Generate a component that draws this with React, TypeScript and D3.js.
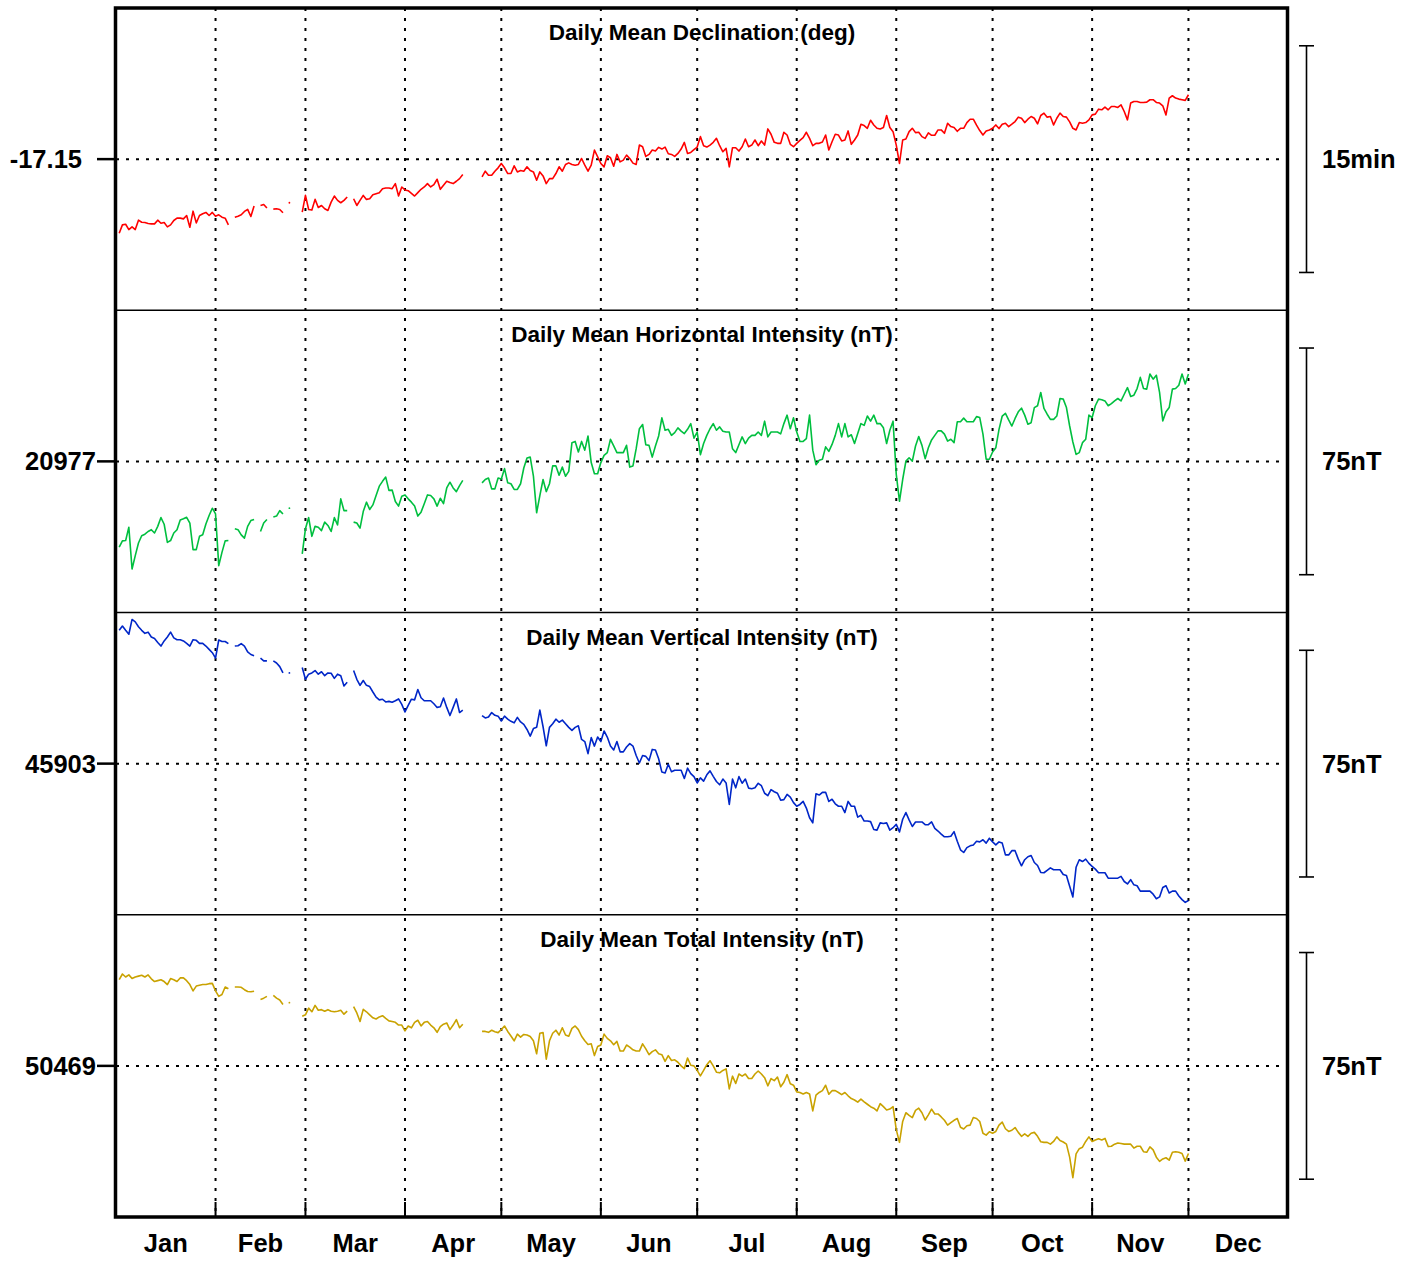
import React from 'react';
import * as d3 from 'd3';

// ---------- DATA ----------
const MONTHS = ['Jan', 'Feb', 'Mar', 'Apr', 'May', 'Jun', 'Jul', 'Aug', 'Sep', 'Oct', 'Nov', 'Dec'];
const MONTH_STARTS = [0, 31, 59, 90, 120, 151, 181, 212, 243, 273, 304, 334, 365];
// first day-of-year of each continuous data segment (days missing between them)
const SEGMENT_STARTS = [1, 37, 45, 49, 54, 58, 74, 114];

const DECLINATION: number[][] = [
  [-17.2318, -17.2225, -17.2218, -17.2277, -17.2247, -17.2277, -17.2173, -17.2196, -17.2199, -17.221, -17.2214, -17.2214, -17.2173, -17.2207, -17.2199, -17.2247, -17.2225, -17.2177, -17.2151, -17.2151, -17.2159, -17.2122, -17.2251, -17.2074, -17.2203, -17.2122, -17.2103, -17.2088, -17.2122, -17.2088, -17.2129, -17.2114, -17.214, -17.2151, -17.2225],
  [-17.214, -17.2129, -17.2114, -17.2077, -17.2055, -17.2133, -17.2018],
  [-17.2011, -17.2, -17.204],
  [-17.2051, -17.2048, -17.2055, -17.2092],
  [-17.1981],
  [-17.2085, -17.19, -17.2055, -17.2062, -17.1944, -17.2033, -17.2011, -17.2048, -17.2066, -17.1974, -17.1907, -17.1955, -17.1981, -17.1955, -17.1918],
  [-17.1937, -17.2011, -17.1955, -17.19, -17.1944, -17.1937, -17.1892, -17.1881, -17.187, -17.1826, -17.1818, -17.1818, -17.1826, -17.177, -17.1907, -17.1807, -17.184, -17.1848, -17.1877, -17.1907, -17.187, -17.1833, -17.1807, -17.177, -17.1807, -17.1781, -17.1722, -17.1833, -17.1789, -17.1744, -17.1759, -17.177, -17.1744, -17.1715, -17.167],
  [
    -17.1696, -17.1633, -17.1678, -17.1678, -17.1633, -17.1596, -17.1548, -17.1596,
    -17.1659, -17.1659, -17.1574, -17.1641, -17.1626, -17.1633, -17.1585, -17.1626, -17.1641,
    -17.1733, -17.1641, -17.1685, -17.177, -17.1715, -17.1715, -17.1659, -17.1585, -17.1633, -17.1559,
    -17.1541, -17.1559, -17.1567, -17.1559, -17.1493, -17.1567, -17.1633, -17.1567, -17.14, -17.1474,
    -17.1548, -17.1585, -17.1463, -17.1485, -17.1578, -17.1448, -17.153, -17.1511, -17.1456, -17.1493,
    -17.1544, -17.1559, -17.1345, -17.1363, -17.147, -17.1448, -17.14, -17.1411, -17.137, -17.1389,
    -17.1367, -17.1441, -17.1448, -17.147, -17.1437, -17.1389, -17.1315, -17.1437, -17.1426, -17.1396,
    -17.1367, -17.1252, -17.1352, -17.1367, -17.1345, -17.1315, -17.1271, -17.1352, -17.1419, -17.1382,
    -17.1585, -17.1374, -17.1374, -17.1411, -17.1363, -17.1278, -17.1363, -17.1345, -17.1289, -17.1352,
    -17.13, -17.1345, -17.1167, -17.1226, -17.1315, -17.1326, -17.1326, -17.1204, -17.1234, -17.1337,
    -17.1363, -17.1326, -17.1293, -17.1263, -17.1204, -17.1271, -17.1352, -17.1326, -17.1326, -17.1311,
    -17.1234, -17.14, -17.1308, -17.1226, -17.1234, -17.13, -17.1289, -17.1189, -17.1337, -17.1289,
    -17.1234, -17.1115, -17.113, -17.116, -17.1071, -17.1123, -17.116, -17.1167, -17.1152, -17.1019,
    -17.1152, -17.1197, -17.1345, -17.1548, -17.1289, -17.1278, -17.1197, -17.116, -17.1208, -17.1204,
    -17.1252, -17.1271, -17.1211, -17.1237, -17.1237, -17.1178, -17.1178, -17.1215, -17.1104, -17.1141,
    -17.1152, -17.1193, -17.116, -17.116, -17.1097, -17.106, -17.106, -17.1126, -17.1185, -17.1234,
    -17.1189, -17.1178, -17.116, -17.1123, -17.1163, -17.1115, -17.1104, -17.1141, -17.1115, -17.1086,
    -17.1037, -17.1049, -17.1097, -17.106, -17.103, -17.1049, -17.1111, -17.1019, -17.0993, -17.1037,
    -17.103, -17.1123, -17.1049, -17.0993, -17.103, -17.1037, -17.1089, -17.116, -17.1178, -17.1097,
    -17.1104, -17.1097, -17.1067, -17.1012, -17.1004, -17.0949, -17.0956, -17.0926, -17.0956, -17.0919,
    -17.0919, -17.093, -17.0901, -17.0975, -17.1067, -17.0882, -17.0864, -17.0864, -17.0875, -17.0875,
    -17.0871, -17.0845, -17.0845, -17.0875, -17.0882, -17.0912, -17.1012, -17.0827, -17.0801, -17.0827,
    -17.0838, -17.0845, -17.0852, -17.079,
  ],
];

const HORIZONTAL: number[][] = [
  [20948.6, 20950.7, 20950.8, 20955.2, 20941.4, 20945.8, 20950.0, 20952.4, 20952.9, 20953.8, 20954.4, 20953.3, 20955.5, 20958.4, 20956.2, 20950.2, 20950.8, 20953.3, 20954.4, 20957.6, 20958.0, 20958.5, 20956.6, 20947.8, 20947.8, 20952.2, 20952.7, 20956.3, 20959.1, 20961.5, 20959.6, 20942.5, 20946.9, 20950.7, 20950.8],
  [20954.7, 20954.4, 20952.7, 20951.6, 20955.5, 20957.4, 20957.8],
  [20953.8, 20956.6, 20957.8],
  [20958.6, 20958.9, 20960.7, 20959.6],
  [20961.5],
  [20946.4, 20954.7, 20958.4, 20952.2, 20955.5, 20955.2, 20954.1, 20956.9, 20955.8, 20953.8, 20958.4, 20956.0, 20964.6, 20960.7, 20960.7],
  [20956.9, 20956.6, 20954.9, 20960.4, 20963.5, 20961.1, 20962.6, 20965.7, 20968.8, 20970.4, 20971.8, 20967.4, 20967.5, 20963.7, 20962.2, 20965.5, 20965.9, 20964.6, 20963.5, 20962.2, 20958.9, 20960.2, 20963.0, 20965.9, 20965.7, 20964.6, 20962.2, 20964.8, 20963.0, 20968.2, 20970.1, 20968.2, 20967.0, 20969.0, 20970.7],
  [
    20969.9, 20971.0, 20971.5, 20967.9, 20967.9, 20971.5, 20971.2, 20974.6,
    20969.9, 20969.6, 20967.7, 20967.7, 20969.6, 20974.8, 20978.1, 20978.4, 20972.1,
    20960.0, 20965.7, 20971.0, 20967.0, 20969.6, 20975.5, 20975.5, 20972.4, 20975.1, 20972.1,
    20973.7, 20983.2, 20983.6, 20980.1, 20983.6, 20980.7, 20985.4, 20976.6, 20972.9, 20972.9,
    20976.6, 20979.0, 20979.9, 20984.3, 20982.1, 20979.9, 20979.9, 20979.9, 20982.3, 20975.1,
    20975.5, 20981.2, 20987.8, 20989.2, 20982.5, 20982.3, 20978.4, 20982.1, 20985.4, 20991.4,
    20987.3, 20987.6, 20985.6, 20986.5, 20988.1, 20987.0, 20986.2, 20987.6, 20989.5, 20984.7,
    20986.7, 20979.2, 20982.9, 20985.6, 20987.8, 20989.5, 20987.3, 20988.4, 20987.0, 20986.7,
    20986.7, 20981.2, 20979.9, 20982.5, 20985.1, 20982.9, 20984.7, 20985.6, 20985.6, 20986.7,
    20985.6, 20990.3, 20985.1, 20986.7, 20986.7, 20986.7, 20986.1, 20989.5, 20992.3, 20987.8,
    20991.4, 20986.7, 20983.6, 20983.6, 20984.5, 20992.3, 20980.7, 20975.9, 20977.4, 20977.7,
    20981.8, 20980.3, 20982.6, 20985.6, 20989.5, 20985.1, 20989.5, 20985.1, 20985.8, 20982.9,
    20986.2, 20989.5, 20988.9, 20992.0, 20990.3, 20992.3, 20989.5, 20989.5, 20988.1, 20982.9,
    20987.3, 20990.3, 20972.7, 20963.8, 20971.0, 20977.1, 20978.2, 20977.1, 20982.1, 20985.2,
    20982.3, 20977.9, 20981.5, 20984.1, 20985.6, 20987.1, 20987.1, 20986.0, 20983.7, 20984.3,
    20983.2, 20990.1, 20990.1, 20991.3, 20990.1, 20990.1, 20990.1, 20991.8, 20991.5, 20986.0,
    20977.7, 20977.7, 20980.1, 20981.5, 20987.6, 20992.0, 20992.9, 20990.7, 20988.7, 20991.2,
    20993.4, 20994.6, 20992.3, 20989.3, 20989.8, 20994.8, 20995.4, 20999.8, 20994.5, 20992.6,
    20990.9, 20990.9, 20992.0, 20997.8, 20997.6, 20994.8, 20988.7, 20983.4, 20979.3, 20979.9,
    20983.2, 20984.3, 20992.3, 20991.5, 20995.4, 20997.6, 20997.4, 20997.0, 20995.4, 20996.1,
    20997.0, 20997.8, 20997.0, 20999.2, 21001.4, 20998.5, 20998.9, 21001.1, 21004.8, 21001.1,
    21000.9, 21005.9, 21004.2, 21005.5, 20999.8, 20990.4, 20993.4, 20994.8, 21000.9, 21001.1,
    21002.2, 21005.9, 21002.6, 21005.9,
  ],
];

const VERTICAL: number[][] = [
  [45947.1, 45948.5, 45947.1, 45945.8, 45950.7, 45949.9, 45948.3, 45947.1, 45946.1, 45946.5, 45944.9, 45944.4, 45943.1, 45941.9, 45943.6, 45944.9, 45946.5, 45944.6, 45944.0, 45944.0, 45943.6, 45942.8, 45941.9, 45944.0, 45943.8, 45942.8, 45942.8, 45941.9, 45940.8, 45939.7, 45937.9, 45943.9, 45943.4, 45943.4, 45942.7],
  [45941.9, 45942.0, 45942.7, 45941.9, 45940.0, 45939.1, 45938.7],
  [45937.9, 45937.0, 45937.0],
  [45937.0, 45936.3, 45935.1, 45933.0],
  [45933.0],
  [45934.8, 45930.9, 45932.6, 45933.0, 45933.8, 45932.6, 45933.4, 45932.1, 45933.0, 45932.9, 45931.2, 45932.6, 45932.1, 45928.7, 45929.9],
  [45933.8, 45930.9, 45928.9, 45930.5, 45928.9, 45928.5, 45926.7, 45925.0, 45924.1, 45924.3, 45923.4, 45923.6, 45923.3, 45923.8, 45924.4, 45922.6, 45920.1, 45922.3, 45924.3, 45924.1, 45927.5, 45924.8, 45923.8, 45923.8, 45923.8, 45922.8, 45921.6, 45921.8, 45924.7, 45921.6, 45918.9, 45921.6, 45924.4, 45919.9, 45920.7],
  [
    45918.9, 45918.1, 45918.4, 45919.9, 45919.0, 45918.7, 45917.1, 45918.7,
    45917.7, 45917.0, 45916.5, 45918.3, 45916.8, 45916.0, 45914.3, 45912.1, 45914.6,
    45915.0, 45920.7, 45915.2, 45908.9, 45915.0, 45916.2, 45917.7, 45916.7, 45917.4, 45916.2,
    45915.0, 45914.0, 45915.0, 45915.5, 45911.0, 45910.3, 45906.3, 45911.6, 45908.8, 45911.8,
    45910.3, 45913.8, 45911.8, 45908.8, 45907.5, 45910.3, 45906.9, 45906.9, 45908.5, 45909.6,
    45908.8, 45905.7, 45903.2, 45905.7, 45905.4, 45904.0, 45907.7, 45907.5, 45904.6, 45900.2,
    45899.9, 45902.8, 45900.3, 45900.8, 45900.8, 45900.8, 45898.1, 45901.5, 45899.7, 45898.7,
    45896.6, 45898.3, 45897.2, 45899.3, 45900.6, 45898.8, 45897.1, 45896.0, 45897.9, 45896.6,
    45889.5, 45897.9, 45895.0, 45898.7, 45896.5, 45897.9, 45894.9, 45894.7, 45895.0, 45896.5,
    45895.7, 45893.2, 45892.4, 45894.4, 45893.7, 45893.2, 45890.9, 45891.1, 45892.8, 45891.9,
    45890.1, 45888.9, 45889.5, 45890.5, 45888.3, 45885.1, 45883.4, 45893.0, 45892.6, 45893.5,
    45893.5, 45890.5, 45891.2, 45889.7, 45888.9, 45888.9, 45886.8, 45890.5, 45888.9, 45888.9,
    45885.3, 45885.9, 45884.0, 45884.0, 45883.8, 45881.2, 45881.0, 45883.4, 45883.2, 45883.4,
    45881.0, 45881.8, 45882.9, 45880.4, 45884.6, 45886.8, 45884.4, 45882.2, 45883.7, 45883.7,
    45883.7, 45882.8, 45882.8, 45883.7, 45881.6, 45880.7, 45879.7, 45878.8, 45878.8, 45879.0,
    45880.5, 45877.3, 45874.5, 45873.6, 45875.2, 45875.8, 45876.1, 45877.3, 45877.1, 45877.8,
    45876.7, 45878.3, 45877.1, 45876.1, 45877.1, 45876.7, 45872.8, 45872.8, 45874.2, 45874.2,
    45871.4, 45869.2, 45871.2, 45872.2, 45872.6, 45870.3, 45869.3, 45867.0, 45866.9, 45867.7,
    45868.5, 45867.9, 45867.9, 45867.9, 45866.3, 45866.0, 45862.4, 45858.9, 45868.7, 45871.2,
    45870.6, 45871.4, 45870.0, 45869.0, 45868.1, 45866.9, 45866.9, 45866.9, 45865.1, 45865.1,
    45865.1, 45865.1, 45865.7, 45864.0, 45863.2, 45864.6, 45862.9, 45862.6, 45860.8, 45860.8,
    45860.8, 45860.8, 45859.8, 45858.3, 45858.9, 45862.0, 45862.6, 45860.2, 45860.8, 45860.8,
    45859.2, 45858.0, 45857.1, 45857.7,
  ],
];

const TOTAL: number[][] = [
  [50497.5, 50499.4, 50498.4, 50499.1, 50497.9, 50498.4, 50498.7, 50499.0, 50498.4, 50499.1, 50497.8, 50496.9, 50497.2, 50497.5, 50496.9, 50495.9, 50497.9, 50497.5, 50496.9, 50498.1, 50498.1, 50497.2, 50495.9, 50493.8, 50495.4, 50495.7, 50495.9, 50495.9, 50496.2, 50496.3, 50493.8, 50492.0, 50492.6, 50495.1, 50494.5],
  [50495.1, 50495.1, 50495.0, 50494.2, 50493.6, 50493.5, 50493.7],
  [50491.0, 50491.4, 50492.0],
  [50492.3, 50491.4, 50490.8, 50489.3],
  [50489.9],
  [50485.4, 50485.9, 50488.1, 50486.9, 50489.0, 50487.4, 50487.6, 50487.1, 50487.6, 50487.1, 50486.9, 50487.1, 50487.4, 50486.1, 50487.1],
  [50488.6, 50486.5, 50483.7, 50487.7, 50486.9, 50485.9, 50484.9, 50484.5, 50485.2, 50485.6, 50484.7, 50483.9, 50483.7, 50483.4, 50482.5, 50482.5, 50480.6, 50482.2, 50481.6, 50483.4, 50484.1, 50482.2, 50483.4, 50483.7, 50482.5, 50481.6, 50480.1, 50482.0, 50482.8, 50483.2, 50481.0, 50482.5, 50484.3, 50481.6, 50482.8],
  [
    50480.4, 50480.4, 50480.1, 50480.8, 50480.3, 50480.0, 50481.0, 50482.2,
    50480.4, 50478.9, 50477.3, 50479.5, 50478.5, 50479.4, 50479.2, 50478.7, 50477.3,
    50473.0, 50479.8, 50480.0, 50471.2, 50477.3, 50479.8, 50480.8, 50479.2, 50481.6, 50479.2,
    50478.8, 50481.4, 50482.2, 50481.0, 50478.8, 50477.3, 50476.1, 50476.3, 50472.4, 50475.4,
    50475.9, 50479.5, 50478.1, 50477.3, 50476.0, 50477.1, 50473.9, 50473.9, 50475.9, 50475.2,
    50474.3, 50473.9, 50473.9, 50476.3, 50474.6, 50472.7, 50473.7, 50474.3, 50473.0, 50472.7,
    50470.5, 50472.4, 50470.8, 50471.0, 50470.2, 50469.0, 50468.1, 50471.6, 50469.2, 50469.0,
    50467.5, 50465.7, 50467.5, 50469.4, 50470.7, 50469.0, 50466.9, 50466.7, 50467.5, 50468.0,
    50461.4, 50465.6, 50463.2, 50466.3, 50465.6, 50466.3, 50464.8, 50464.8, 50466.3, 50467.3,
    50466.3, 50465.1, 50462.4, 50464.8, 50464.1, 50465.3, 50462.1, 50463.6, 50466.1, 50463.1,
    50462.6, 50460.4, 50460.2, 50459.7, 50460.2, 50459.7, 50454.1, 50459.3, 50460.2, 50460.8,
    50462.6, 50459.6, 50460.8, 50460.8, 50460.2, 50459.5, 50460.2, 50459.1, 50458.2, 50457.7,
    50457.0, 50458.0, 50457.1, 50456.3, 50455.5, 50455.0, 50454.1, 50456.5, 50455.5, 50454.4,
    50454.7, 50455.5, 50447.9, 50443.7, 50450.6, 50453.5, 50452.6, 50451.9, 50454.3, 50455.0,
    50453.5, 50451.1, 50452.8, 50454.7, 50453.1, 50453.1, 50452.1, 50451.0, 50449.4, 50450.2,
    50451.0, 50451.6, 50448.7, 50448.1, 50449.2, 50449.4, 50451.9, 50451.6, 50450.6, 50446.7,
    50446.1, 50447.2, 50446.7, 50447.3, 50449.4, 50450.4, 50448.2, 50447.3, 50447.7, 50448.6,
    50447.0, 50445.7, 50446.5, 50445.7, 50446.7, 50447.0, 50445.7, 50443.9, 50443.7, 50443.7,
    50443.1, 50444.0, 50445.5, 50444.3, 50443.8, 50443.1, 50438.8, 50432.0, 50439.9, 50441.6,
    50442.1, 50444.0, 50445.5, 50444.0, 50444.5, 50444.9, 50444.5, 50445.0, 50442.3, 50442.4,
    50443.1, 50443.5, 50443.3, 50443.1, 50443.1, 50443.1, 50441.8, 50442.4, 50442.4, 50440.6,
    50440.4, 50442.2, 50441.2, 50438.8, 50437.4, 50438.2, 50438.6, 50437.8, 50440.4, 50440.6,
    50440.4, 50440.0, 50437.5, 50440.0,
  ],
];

const TITLES = [
  'Daily Mean Declination (deg)',
  'Daily Mean Horizontal Intensity (nT)',
  'Daily Mean Vertical Intensity (nT)',
  'Daily Mean Total Intensity (nT)',
];
const CENTERS = [-17.15, 20977, 45903, 50469];
const CENTER_LABELS = ['-17.15', '20977', '45903', '50469'];
const HALF_RANGES = [1 / 6, 50, 50, 50]; // half of each panel's span (deg / nT)
const BAR_SIZES = [0.25, 75, 75, 75]; // scale bar length (15 min = 0.25 deg, 75 nT)
const BAR_LABELS = ['15min', '75nT', '75nT', '75nT'];
const COLORS = ['#ff0000', '#00bf3f', '#0026c8', '#c9a200'];
const SERIES = [DECLINATION, HORIZONTAL, VERTICAL, TOTAL];

// ---------- LAYOUT ----------
const LEFT = 116;
const RIGHT = 1288;
const TOP = 8;
const BOTTOM = 1217;
const PANEL_H = (BOTTOM - TOP) / 4;
const FONT = '"Liberation Sans", Arial, Helvetica, sans-serif';

export default function App() {
  const x = d3.scaleLinear().domain([0, 365]).range([LEFT, RIGHT]);
  const line = d3.line<[number, number]>();

  const panels = TITLES.map((title, k) => {
    const top = TOP + k * PANEL_H;
    const y = d3
      .scaleLinear()
      .domain([CENTERS[k] - HALF_RANGES[k], CENTERS[k] + HALF_RANGES[k]])
      .range([top + PANEL_H, top]);
    const segs = SERIES[k].map((vals, s) =>
      vals.map((v, i) => [x(SEGMENT_STARTS[s] + i), y(v)] as [number, number])
    );
    return { title, k, top, y, segs };
  });

  const gridX = MONTH_STARTS.slice(1, -1);

  return (
    <svg
      width={1403}
      height={1261}
      style={{ position: 'absolute', left: 0, top: 0, background: '#fff' }}
      fontFamily={FONT}
      fontWeight="bold"
    >
      <rect x={0} y={0} width={1403} height={1261} fill="#fff" />
      {/* vertical month grid */}
      {gridX.map((d) => (
        <line
          key={'g' + d}
          x1={x(d)}
          x2={x(d)}
          y1={TOP}
          y2={BOTTOM}
          stroke="#000"
          strokeWidth={2}
          strokeDasharray="3,7"
        />
      ))}
      {/* month ticks at bottom */}
      {gridX.map((d) => (
        <line key={'t' + d} x1={x(d)} x2={x(d)} y1={BOTTOM - 15} y2={BOTTOM} stroke="#000" strokeWidth={2} />
      ))}
      {panels.map(({ title, k, top, y, segs }) => {
        const cy = y(CENTERS[k]);
        const barTop = y(CENTERS[k] + BAR_SIZES[k] / 2);
        const barBot = y(CENTERS[k] - BAR_SIZES[k] / 2);
        return (
          <g key={k}>
            <line
              x1={LEFT}
              x2={RIGHT}
              y1={cy}
              y2={cy}
              stroke="#000"
              strokeWidth={2}
              strokeDasharray="3,7"
            />
            {k > 0 && <line x1={LEFT} x2={RIGHT} y1={top} y2={top} stroke="#000" strokeWidth={1.6} />}
            <text x={(LEFT + RIGHT) / 2} y={top + 32} textAnchor="middle" fontSize={22.5}>
              {title}
            </text>
            {/* left tick and label */}
            <line x1={97} x2={LEFT} y1={cy} y2={cy} stroke="#000" strokeWidth={2.5} />
            <text x={k === 0 ? 82 : 96} y={cy + 9} textAnchor="end" fontSize={25.5}>
              {CENTER_LABELS[k]}
            </text>
            {/* right scale bar */}
            <line x1={1306.5} x2={1306.5} y1={barTop} y2={barBot} stroke="#000" strokeWidth={1.6} />
            <line x1={1299} x2={1314} y1={barTop} y2={barTop} stroke="#000" strokeWidth={1.6} />
            <line x1={1299} x2={1314} y1={barBot} y2={barBot} stroke="#000" strokeWidth={1.6} />
            <text x={1322} y={cy + 9} fontSize={25.5}>
              {BAR_LABELS[k]}
            </text>
            {/* data */}
            {segs.map((pts, s) =>
              pts.length > 1 ? (
                <path
                  key={s}
                  d={line(pts) || ''}
                  fill="none"
                  stroke={COLORS[k]}
                  strokeWidth={1.6}
                  strokeLinejoin="round"
                />
              ) : (
                <circle key={s} cx={pts[0][0]} cy={pts[0][1]} r={0.9} fill={COLORS[k]} />
              )
            )}
          </g>
        );
      })}
      {/* outer frame */}
      <rect
        x={LEFT - 0.5}
        y={TOP}
        width={RIGHT - LEFT}
        height={BOTTOM - TOP}
        fill="none"
        stroke="#000"
        strokeWidth={3.5}
      />
      {/* month labels */}
      {MONTHS.map((m, i) => (
        <text
          key={m}
          x={x((MONTH_STARTS[i] + MONTH_STARTS[i + 1]) / 2)}
          y={1252}
          textAnchor="middle"
          fontSize={25.5}
        >
          {m}
        </text>
      ))}
    </svg>
  );
}
